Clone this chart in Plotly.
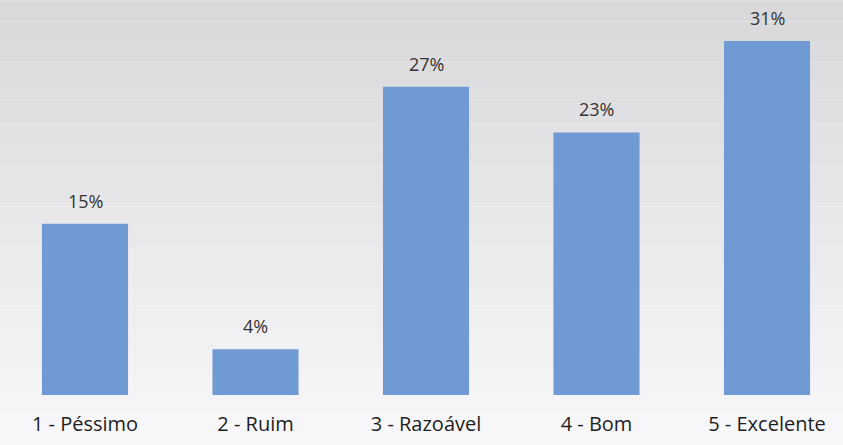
import plotly.graph_objects as go

categories = ['1 - Péssimo', '2 - Ruim', '3 - Razoável', '4 - Bom', '5 - Excelente']
percentages = [15, 4, 27, 23, 31]
labels = [f'{v}%' for v in percentages]

fig = go.Figure()
fig.add_trace(go.Bar(
    x=categories, y=percentages,
    marker=dict(color='#709ad3', line=dict(width=0)),
    width=0.505, hoverinfo='x+y',
))

# percent labels above each bar
annotations = [
    dict(x=c, y=v, text=t, showarrow=False, yanchor='bottom', yshift=9,
         font=dict(size=18, color='#333333', family='Open Sans'))
    for c, v, t in zip(categories, percentages, labels)
]

# scanned-page background: grey at the top fading to white near the bottom
shapes = []
n = 24
for i in range(n):
    g = int(216 + (250 - 216) * i / (n - 1))
    shapes.append(dict(
        type='rect', xref='paper', yref='paper', layer='below',
        x0=-0.05, x1=1.05, y0=1.05 - (i + 1) * 1.25 / n, y1=1.05 - i * 1.25 / n,
        fillcolor=f'rgb({g},{g},{min(g + 3, 255)})', line=dict(width=0),
    ))

fig.update_layout(
    width=843, height=445,
    margin=dict(l=0, r=0, t=0, b=50, autoexpand=False),
    paper_bgcolor='#fafafa', plot_bgcolor='rgba(0,0,0,0)',
    shapes=shapes, annotations=annotations, showlegend=False,
    xaxis=dict(range=[-0.4985, 4.4457], showgrid=False, showline=False, ticks='',
               zeroline=False, ticklabelstandoff=15,
               tickfont=dict(size=20, color='#1e1e1e', family='Open Sans')),
    yaxis=dict(range=[0, 34.6], visible=False, showgrid=False, zeroline=False),
)

# drop the default page margin so the figure fills the window
fig.write_html('out.html', config={'displayModeBar': False},
               post_script="document.body.style.margin='0';")
